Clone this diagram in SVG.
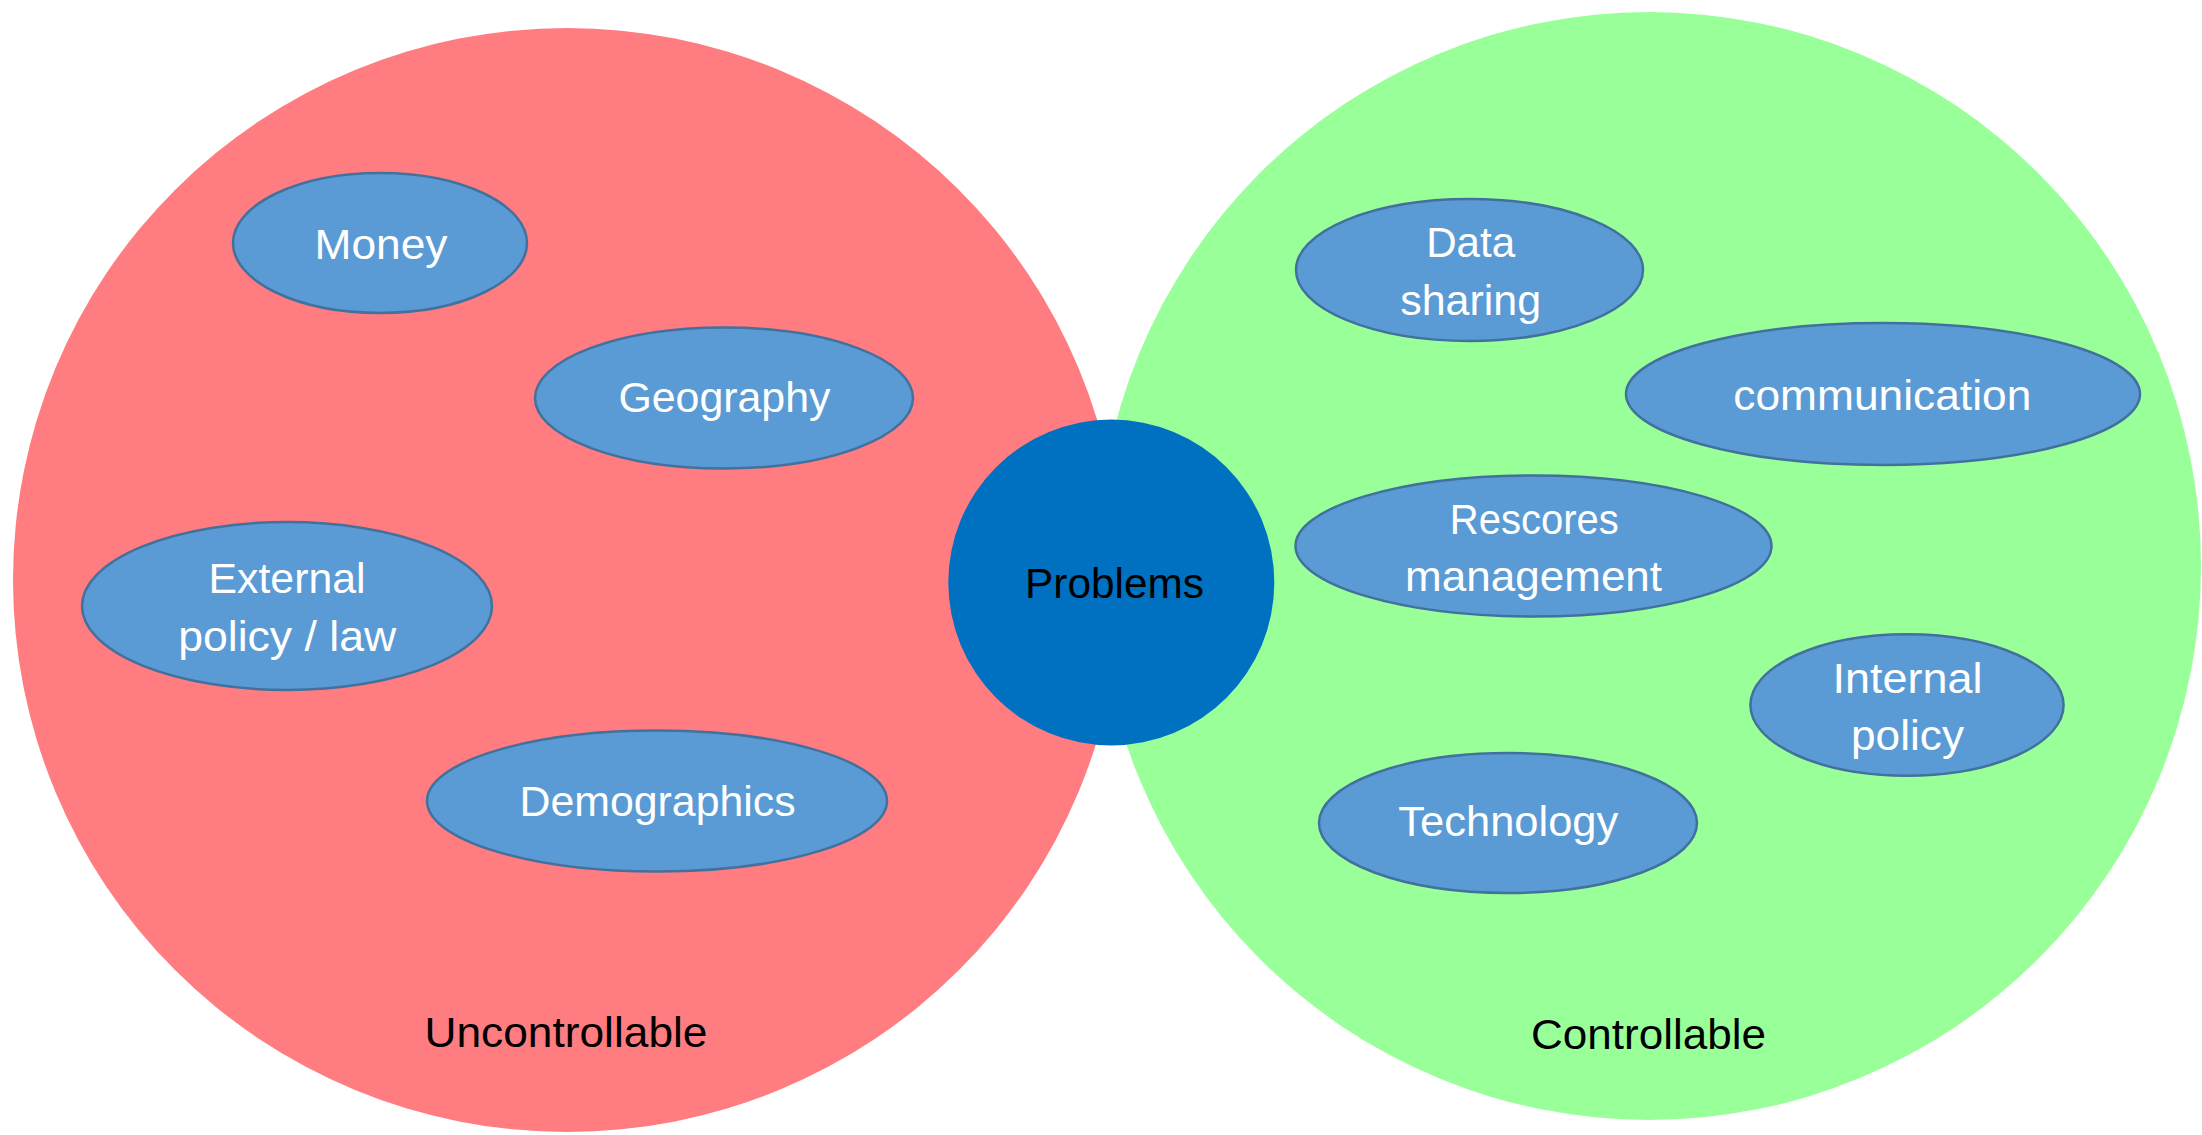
<svg xmlns="http://www.w3.org/2000/svg" width="2202" height="1135" viewBox="0 0 2202 1135">
  <style>
    .zone-red { fill: #FF7C80; }
    .zone-green { fill: #99FF99; }
    .factor { fill: #5B9BD5; stroke: #41719C; stroke-width: 2.5; }
    .hub { fill: #0070C0; }
    text { font-family: "Liberation Sans", Arial, sans-serif; font-size: 42px; text-anchor: middle; }
    .light { fill: #FFFFFF; }
    .dark { fill: #000000; }
  </style>

  <rect width="2202" height="1135" fill="#FFFFFF"/>

  <!-- Two domains -->
  <g id="uncontrollable">
    <ellipse class="zone-red" cx="567" cy="580" rx="554" ry="552"/>
    <text class="dark" x="566" y="1047" textLength="283" lengthAdjust="spacingAndGlyphs">Uncontrollable</text>
  </g>
  <g id="controllable">
    <ellipse class="zone-green" cx="1649" cy="566" rx="552" ry="554"/>
    <text class="dark" x="1648.5" y="1049" textLength="235" lengthAdjust="spacingAndGlyphs">Controllable</text>
  </g>

  <!-- Connectors: none drawn -->
  <g id="connectors"/>

  <!-- Uncontrollable factors -->
  <g id="money">
    <ellipse class="factor" cx="380" cy="243" rx="147" ry="70"/>
    <text class="light" x="381" y="258.6" textLength="133" lengthAdjust="spacingAndGlyphs">Money</text>
  </g>
  <g id="geography">
    <ellipse class="factor" cx="724" cy="398" rx="189" ry="70.5"/>
    <text class="light" x="724.4" y="412.3" textLength="212" lengthAdjust="spacingAndGlyphs">Geography</text>
  </g>
  <g id="external-policy">
    <ellipse class="factor" cx="287" cy="606" rx="205" ry="84"/>
    <text class="light" x="287" y="593" textLength="157" lengthAdjust="spacingAndGlyphs">External</text>
    <text class="light" x="287.2" y="651" textLength="218" lengthAdjust="spacingAndGlyphs">policy / law</text>
  </g>
  <g id="demographics">
    <ellipse class="factor" cx="657" cy="801" rx="230" ry="70.5"/>
    <text class="light" x="657.6" y="816" textLength="276" lengthAdjust="spacingAndGlyphs">Demographics</text>
  </g>

  <!-- Central node -->
  <g id="problems">
    <circle class="hub" cx="1111.3" cy="582.5" r="163"/>
    <text class="dark" x="1114.5" y="598" textLength="179" lengthAdjust="spacingAndGlyphs">Problems</text>
  </g>

  <!-- Controllable factors -->
  <g id="data-sharing">
    <ellipse class="factor" cx="1469.5" cy="270" rx="173.5" ry="71"/>
    <text class="light" x="1470.7" y="256.8" textLength="89" lengthAdjust="spacingAndGlyphs">Data</text>
    <text class="light" x="1470.7" y="314.6" textLength="141" lengthAdjust="spacingAndGlyphs">sharing</text>
  </g>
  <g id="communication">
    <ellipse class="factor" cx="1883" cy="394" rx="257" ry="71"/>
    <text class="light" x="1882.3" y="409.8" textLength="298" lengthAdjust="spacingAndGlyphs">communication</text>
  </g>
  <g id="resources-management">
    <ellipse class="factor" cx="1533.5" cy="546" rx="238" ry="70.5"/>
    <text class="light" x="1534.3" y="533.5" textLength="169" lengthAdjust="spacingAndGlyphs">Rescores</text>
    <text class="light" x="1533.6" y="590.5" textLength="257" lengthAdjust="spacingAndGlyphs">management</text>
  </g>
  <g id="internal-policy">
    <ellipse class="factor" cx="1907" cy="705" rx="156.6" ry="70.7"/>
    <text class="light" x="1907.5" y="692.5" textLength="150" lengthAdjust="spacingAndGlyphs">Internal</text>
    <text class="light" x="1907.5" y="749.6" textLength="113" lengthAdjust="spacingAndGlyphs">policy</text>
  </g>
  <g id="technology">
    <ellipse class="factor" cx="1508" cy="823" rx="189" ry="70"/>
    <text class="light" x="1508.3" y="836.4" textLength="220" lengthAdjust="spacingAndGlyphs">Technology</text>
  </g>
</svg>
